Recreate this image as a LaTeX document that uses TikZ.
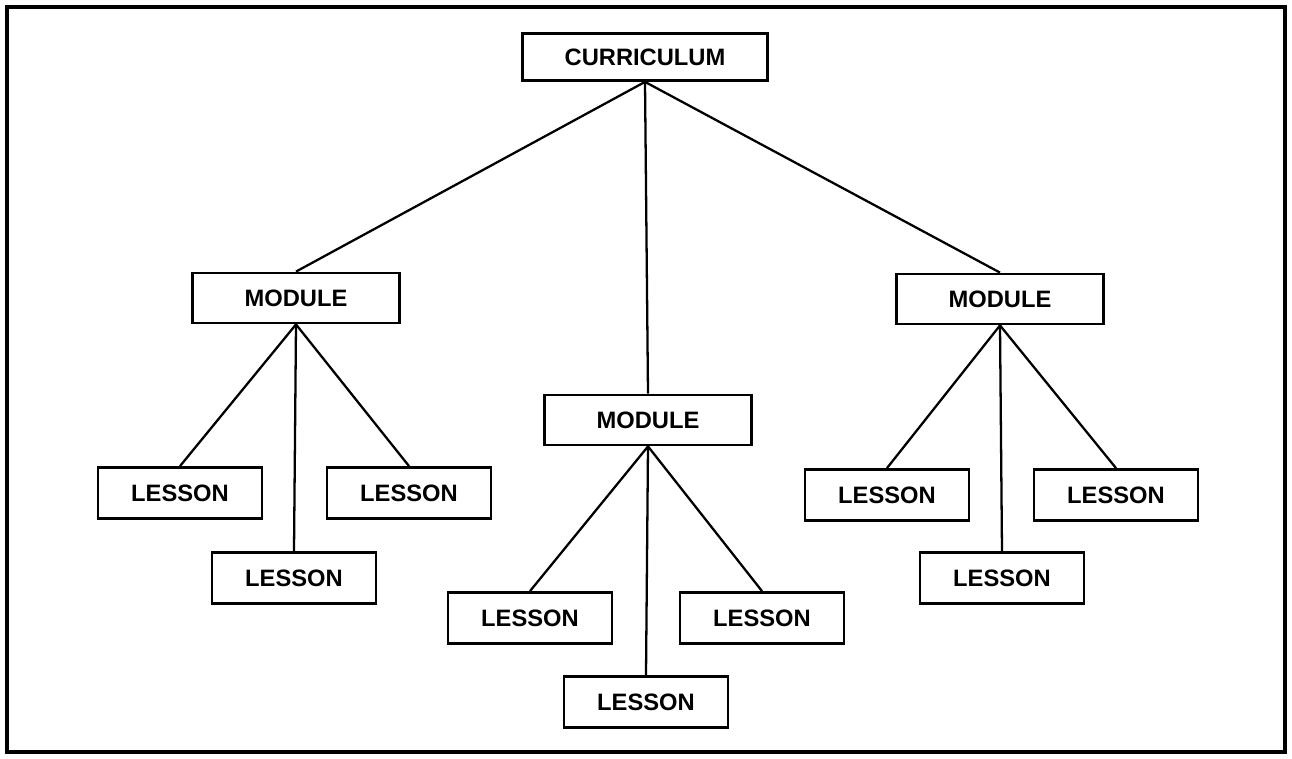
\documentclass[tikz,border=0pt]{standalone}
\usepackage{fontspec}
\setmainfont{Liberation Sans}
\usetikzlibrary{positioning}

\begin{document}
\begin{tikzpicture}[x=0.02cm, y=-0.02cm,
    box/.style={draw, line width=1.6pt, font=\bfseries\fontsize{13.5}{16}\selectfont, inner sep=0pt},
    lesson/.style={box, minimum width=3.28cm, minimum height=1.02cm},
    module/.style={box, minimum width=4.14cm, minimum height=1.0cm},
    link/.style={-, line width=1.3pt}]
      \useasboundingbox (0,0) rectangle (1292,758);
      \draw [line width=2pt] (7,7) rectangle (1285,752);

      \node [box, minimum width=4.9cm, minimum height=0.94cm] (cur) at (645,57) {CURRICULUM};

      \node [module] (m1) at (296,298) {MODULE};
      \node [module] (m2) at (648,420) {MODULE};
      \node [module] (m3) at (1000,299) {MODULE};

      % lessons of the left module
      \node [lesson] (l11) at (180,493) {LESSON};
      \node [lesson] (l12) at (294,578) {LESSON};
      \node [lesson] (l13) at (409,493) {LESSON};

      % lessons of the middle module
      \node [lesson] (l21) at (530,618) {LESSON};
      \node [lesson] (l22) at (646,702) {LESSON};
      \node [lesson] (l23) at (762,618) {LESSON};

      % lessons of the right module
      \node [lesson] (l31) at (887,495) {LESSON};
      \node [lesson] (l32) at (1002,578) {LESSON};
      \node [lesson] (l33) at (1116,495) {LESSON};

      \foreach \m in {m1,m2,m3} \draw [link] (cur.south) -- (\m.north);
      \foreach \l in {l11,l12,l13} \draw [link] (m1.south) -- (\l.north);
      \foreach \l in {l21,l22,l23} \draw [link] (m2.south) -- (\l.north);
      \foreach \l in {l31,l32,l33} \draw [link] (m3.south) -- (\l.north);
\end{tikzpicture}
\end{document}
